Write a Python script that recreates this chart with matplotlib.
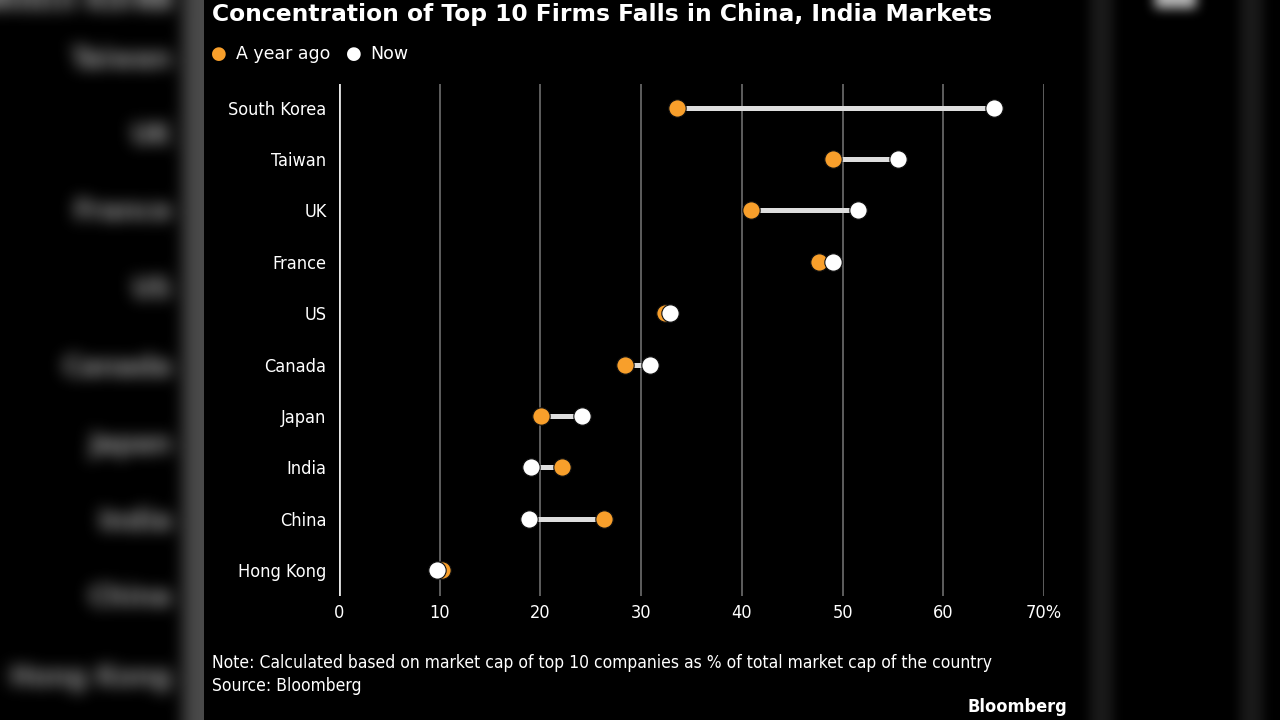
import numpy as np
import matplotlib
matplotlib.use("Agg")
import matplotlib.pyplot as plt

countries = ["South Korea", "Taiwan", "UK", "France", "US",
             "Canada", "Japan", "India", "China", "Hong Kong"]
year_ago = [33.6, 49.0, 40.9, 47.7, 32.4, 28.4, 20.1, 22.1, 26.3, 10.2]
now = [65.0, 55.5, 51.5, 49.0, 32.9, 30.9, 24.1, 19.1, 18.9, 9.7]
x_ticks = [0, 10, 20, 30, 40, 50, 60, 70]
x_labels = ["0", "10", "20", "30", "40", "50", "60", "70%"]

ORANGE = "#f89f2b"
W, H = 1280, 720


def box_blur(img, r, passes=3):
    out = img.astype(float)
    for _ in range(passes):
        for axis in (0, 1):
            pad = [(0, 0)] * out.ndim
            pad[axis] = (r + 1, r)
            p = np.pad(out, pad, mode="edge")
            c = np.cumsum(p, axis=axis)
            n = out.shape[axis]
            hi = np.take(c, range(2 * r + 1, 2 * r + 1 + n), axis=axis)
            lo = np.take(c, range(0, n), axis=axis)
            out = (hi - lo) / (2 * r + 1)
    return out


def blurred_side(width, draw, r=4):
    f = plt.figure(figsize=(width / 100, H / 100), dpi=100)
    f.patch.set_facecolor("black")
    draw(f, width)
    f.canvas.draw()
    arr = np.asarray(f.canvas.buffer_rgba())[:, :, :3] / 255.0
    plt.close(f)
    return np.clip(box_blur(arr, r), 0, 1)


def draw_left(f, width):
    # zoomed, blurred copy of the country labels behind the card
    ys = [2, 60, 136, 212, 290, 368, 445, 522, 598, 678]
    for name, y in zip(countries, ys):
        f.text(172 / width, 1 - y / H, name, ha="right", va="center",
               fontsize=21, fontweight="bold", color="#9a9a9a",
               family="DejaVu Sans", stretch="condensed")
    f.patches.append(plt.Rectangle((183 / width, 0), 20 / width, 1,
                                   transform=f.transFigure,
                                   color="#4a4a4a"))


def draw_right(f, width):
    for x0 in (15, 165):
        f.patches.append(plt.Rectangle((x0 / width, 0), 22 / width, 1,
                                       transform=f.transFigure,
                                       color="#1a1a1a"))
    f.patches.append(plt.Rectangle((80 / width, 0.99), 40 / width, 0.02,
                                   transform=f.transFigure,
                                   color="#bbbbbb"))


fig = plt.figure(figsize=(W / 100, H / 100), dpi=100)
fig.patch.set_facecolor("black")

left_img = blurred_side(205, draw_left, r=7)
right_img = blurred_side(205, draw_right, r=5)
fig.figimage(left_img, xo=0, yo=0, origin="upper", zorder=0)
fig.figimage(right_img, xo=1075, yo=0, origin="upper", zorder=0)

ax = fig.add_axes([339 / W, 1 - 596 / H, (1044 - 339) / W, (596 - 84) / H])
ax.set_facecolor("none")

y = np.arange(len(countries))
ax.set_xlim(0, 70)
ax.set_ylim(len(countries) - 0.5, -0.46)

for t in x_ticks[1:]:
    ax.axvline(t, color="#656565", lw=1.3, zorder=1)
ax.axvline(0, color="#e6e6e6", lw=2, zorder=2)

ax.hlines(y, year_ago, now, color="#dedede", lw=3.6, zorder=3)
ax.plot(year_ago, y, "o", color=ORANGE, ms=12.5, mec="#111111", mew=0.8,
        zorder=4, ls="none")
ax.plot(now, y, "o", color="white", ms=12.5, mec="#111111", mew=0.8,
        zorder=5, ls="none")

for s in ax.spines.values():
    s.set_visible(False)
ax.set_yticks(y)
ax.set_yticklabels(countries, color="white", fontsize=13,
                   family="DejaVu Sans", stretch="condensed")
ax.set_xticks(x_ticks)
ax.set_xticklabels(x_labels, color="white", fontsize=13,
                   family="DejaVu Sans", stretch="condensed")
ax.tick_params(length=0, pad=9, axis="y")
ax.tick_params(length=0, pad=6, axis="x")
for lbl in ax.get_yticklabels():
    lbl.set_y(lbl.get_position()[1])

fig.text(212 / W, 1 - 15 / H, "Concentration of Top 10 Firms Falls in China, India Markets",
         color="white", fontsize=16.8, fontweight="bold", va="center", ha="left")

fig.text(219 / W, 1 - 54 / H, "\u25CF", color=ORANGE, fontsize=13, va="center", ha="center")
fig.text(236 / W, 1 - 54 / H, "A year ago", color="white", fontsize=12.5, va="center")
fig.text(354 / W, 1 - 54 / H, "\u25CF", color="white", fontsize=13, va="center", ha="center")
fig.text(370 / W, 1 - 54 / H, "Now", color="white", fontsize=12.5, va="center")

fig.text(212 / W, 1 - 663 / H,
         "Note: Calculated based on market cap of top 10 companies as % of total market cap of the country",
         color="white", fontsize=12.5, va="center", family="DejaVu Sans", stretch="condensed")
fig.text(212 / W, 1 - 686 / H, "Source: Bloomberg", color="white", fontsize=12.5,
         va="center", family="DejaVu Sans", stretch="condensed")
fig.text(1067 / W, 1 - 707 / H, "Bloomberg", color="white", fontsize=13,
         fontweight="bold", va="center", ha="right", family="DejaVu Sans",
         stretch="condensed")

fig.savefig("out.png", dpi=100, facecolor="black")
